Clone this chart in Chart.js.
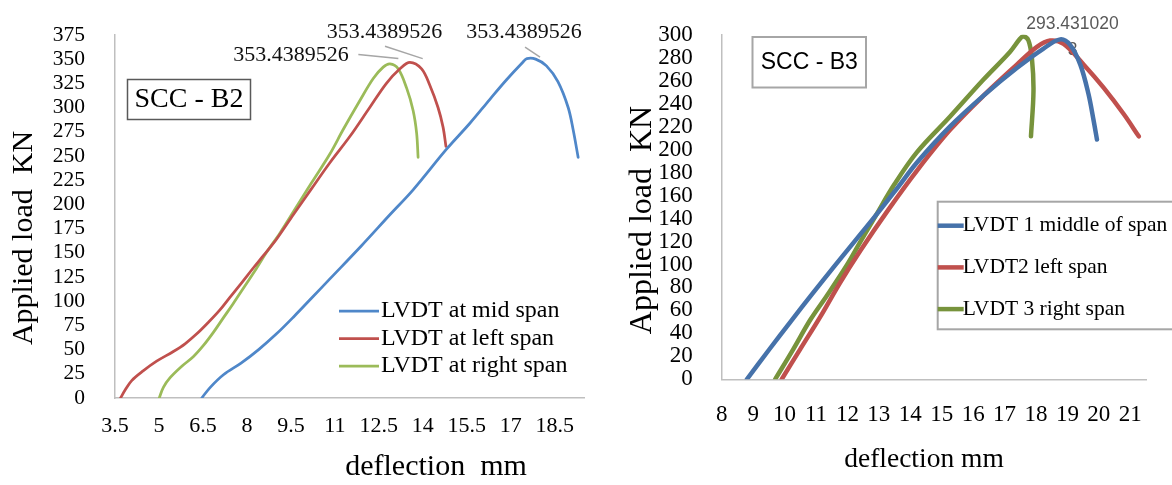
<!DOCTYPE html>
<html>
<head>
<meta charset="utf-8">
<script src="https://cdn.jsdelivr.net/npm/chart.js@4.4.0/dist/chart.umd.min.js"></script>
<style>
  body { margin: 0; background: #fff; width: 1172px; height: 485px; position: relative; overflow: hidden; }
  #wrapB2 { position: absolute; left: 0; top: 0; width: 600px; height: 485px; }
  #wrapB3 { position: absolute; left: 600px; top: 0; width: 572px; height: 485px; }
</style>
</head>
<body>
<div id="wrapB2"><canvas id="chartB2" width="600" height="485"></canvas></div>
<div id="wrapB3"><canvas id="chartB3" width="572" height="485"></canvas></div>
<script>
// ---- SCC - B2 (left chart) ----
const b2Series = ['LVDT at mid span', 'LVDT at left span', 'LVDT at right span'];
const b2MidX = [6.46, 6.75, 7.2, 7.8, 8.4, 9.0, 9.6, 10.2, 10.83, 11.9, 12.9, 13.67, 14.81, 15.6, 16.29, 16.85, 17.42, 17.55, 17.85, 18.22, 18.61, 18.96, 19.13, 19.3];
const b2MidY = [0, 11, 24, 36, 50, 66, 84, 103, 123, 157, 190, 215, 257, 283.5, 308.5, 328.4, 347, 350.5, 350, 343, 326.7, 300, 277, 248.6];
const b2LeftX = [3.69, 3.84, 4.07, 4.46, 4.92, 5.49, 5.89, 6.28, 6.68, 7.08, 7.42, 7.82, 8.21, 8.56, 9.01, 9.6, 10.2, 10.83, 11.51, 12.19, 12.76, 13.22, 13.56, 13.96, 14.24, 14.52, 14.69, 14.79];
const b2LeftY = [0, 8, 18, 28, 38, 48, 56, 66, 78, 91, 104, 119, 134, 147, 164, 190, 216, 243, 270, 300, 325, 340, 346.7, 340, 323, 300, 280, 260];
const b2RightX = [5.01, 5.15, 5.38, 5.77, 6.17, 6.51, 6.85, 7.19, 7.53, 7.93, 8.33, 8.67, 9.13, 9.58, 10.2, 10.83, 11.28, 11.85, 12.31, 12.65, 12.88, 13.16, 13.45, 13.67, 13.79, 13.84];
const b2RightY = [0, 11, 21, 32.6, 42.6, 54, 67.5, 82.5, 97.4, 115.7, 134, 150.5, 170.5, 192, 222, 252, 277, 307, 330, 341.7, 345, 340, 320, 297, 273.6, 248.6];
const b2XTicks = [3.5, 5, 6.5, 8, 9.5, 11, 12.5, 14, 15.5, 17, 18.5];
const b2YTicks = [0, 25, 50, 75, 100, 125, 150, 175, 200, 225, 250, 275, 300, 325, 350, 375];
const b2PeakLabel = '353.4389526';

// ---- SCC - B3 (right chart) ----
const b3Series = ['LVDT 1 middle of span', 'LVDT2 left span', 'LVDT 3 right span'];
const b3MidX = [8.8, 9.5, 10.2, 10.9, 11.6, 12.3, 13.0, 13.6, 14.22, 15.26, 16.33, 17.39, 18.24, 18.77, 19.09, 19.41, 19.67, 19.83, 19.94];
const b3MidY = [0, 25.5, 50.5, 75, 99, 122.5, 146, 167, 189, 220, 247, 271, 288, 296, 291, 274, 248.4, 225.8, 208.8];
const b3LeftX = [9.91, 10.5, 11.14, 11.77, 12.41, 13.31, 14.22, 15.26, 16.33, 17.39, 18.03, 18.45, 18.88, 19.52, 20.15, 20.79, 21.27];
const b3LeftY = [0, 26.3, 54.6, 84.3, 112, 148, 182, 217, 247, 274, 289.5, 295, 292, 274, 254, 231, 211.6];
const b3RightX = [9.7, 10.28, 10.82, 11.35, 11.99, 12.41, 12.89, 13.5, 14.22, 15.26, 16.33, 17.17, 17.49, 17.6, 17.76, 17.87, 17.92, 17.84];
const b3RightY = [0, 26.3, 51.8, 73, 99.8, 119.7, 142, 170, 198, 228.6, 261, 285, 296.5, 298.8, 295, 279.5, 251, 211.6];
const b3XTicks = [8, 9, 10, 11, 12, 13, 14, 15, 16, 17, 18, 19, 20, 21];
const b3YTicks = [0, 20, 40, 60, 80, 100, 120, 140, 160, 180, 200, 220, 240, 260, 280, 300];
const b3PeakLines = ['293.431020', '3'];

const SERIF = "'Liberation Serif', 'Times New Roman', serif";
const SANS = "'Liberation Sans', Arial, sans-serif";

function pts(xs, ys) { return xs.map((x, i) => ({ x: x, y: ys[i] })); }

// data labels, text boxes, legend and axis titles
const extras = {
  id: 'extras',
  beforeDatasetsDraw(chart, args, o) {
    const ctx = chart.ctx, xs = chart.scales.x, ys = chart.scales.y;
    ctx.save();
    (o.peakLabels || []).forEach(l => {
      const data = chart.data.datasets[l.ds].data;
      let top = data[0];
      data.forEach(p => { if (p.y > top.y) top = p; });
      const px = xs.getPixelForValue(top.x), py = ys.getPixelForValue(top.y);
      if (l.lead) {
        ctx.strokeStyle = '#a6a6a6';
        ctx.lineWidth = 1.5;
        ctx.beginPath();
        ctx.moveTo(px + l.lead[0], py + l.lead[1]);
        ctx.lineTo(px + l.lead[2], py + l.lead[3]);
        ctx.stroke();
      }
      ctx.font = l.font;
      ctx.fillStyle = l.color;
      ctx.textAlign = 'center';
      ctx.textBaseline = 'middle';
      l.lines.forEach((t, i) => ctx.fillText(t, px + l.dx, py + l.dy + i * l.lh));
    });
    ctx.restore();
  },
  afterDraw(chart, args, o) {
    const ctx = chart.ctx;
    ctx.save();
    ctx.fillStyle = '#000';
    ctx.textBaseline = 'middle';
    ctx.textAlign = 'center';

    ctx.font = o.xTitle.font;
    ctx.fillText(o.xTitle.text, o.xTitle.x, o.xTitle.y);
    ctx.save();
    ctx.translate(o.yTitle.x, o.yTitle.y);
    ctx.rotate(-Math.PI / 2);
    ctx.font = o.yTitle.font;
    ctx.fillText(o.yTitle.text, 0, 0);
    ctx.restore();

    const b = o.box;
    ctx.strokeStyle = b.stroke;
    ctx.lineWidth = b.lineWidth;
    ctx.strokeRect(b.x0, b.y0, b.x1 - b.x0, b.y1 - b.y0);
    ctx.font = b.font;
    ctx.fillText(b.text, (b.x0 + b.x1) / 2, b.ty);

    const g = o.legend;
    if (g.frame) {
      ctx.strokeStyle = g.frame.stroke;
      ctx.lineWidth = g.frame.lineWidth;
      ctx.strokeRect(g.frame.x0, g.frame.y0, g.frame.x1 - g.frame.x0, g.frame.y1 - g.frame.y0);
    }
    ctx.textAlign = 'left';
    ctx.font = g.font;
    chart.data.datasets.forEach((d, i) => {
      const y = g.y + i * g.dy;
      ctx.strokeStyle = d.borderColor;
      ctx.lineWidth = d.borderWidth;
      ctx.beginPath();
      ctx.moveTo(g.x, y);
      ctx.lineTo(g.x + g.lineLen, y);
      ctx.stroke();
      ctx.fillText(d.label, g.x + g.lineLen + g.gap, y);
    });
    ctx.restore();
  }
};

function line(label, data, color, width) {
  return {
    label: label, data: data, borderColor: color, borderWidth: width,
    showLine: true, pointRadius: 0, tension: 0.35, fill: false,
    borderCapStyle: 'round', borderJoinStyle: 'round'
  };
}

function axis(min, max, tickList, pad, fit, fontSize) {
  return {
    type: 'linear', min: min, max: max,
    afterBuildTicks: s => { s.ticks = tickList.map(v => ({ value: v })); },
    afterFit: fit,
    grid: { display: false },
    border: { display: true, color: '#bfbfbf', width: 1.5 },
    ticks: {
      font: { family: SERIF, size: fontSize }, color: '#000', padding: pad,
      autoSkip: false, maxRotation: 0, callback: v => String(v)
    }
  };
}

new Chart('chartB2', {
  type: 'scatter',
  data: {
    datasets: [
      line(b2Series[0], pts(b2MidX, b2MidY), '#4f87c9', 2.75),
      line(b2Series[1], pts(b2LeftX, b2LeftY), '#c0504d', 2.75),
      line(b2Series[2], pts(b2RightX, b2RightY), '#9bbb59', 2.75)
    ]
  },
  options: {
    responsive: false, animation: false, events: [],
    layout: { padding: { top: 22, right: 16, left: 0, bottom: 0 } },
    scales: {
      x: axis(3.5, 19.5, b2XTicks, 7, s => { s.height = 87; }, 22),
      y: axis(0, 375, b2YTicks, 22, s => { s.width = 115; }, 21.5)
    },
    plugins: {
      legend: { display: false },
      tooltip: { enabled: false },
      extras: {
        xTitle: { text: 'deflection  mm', x: 436, y: 467, font: '30px ' + SERIF },
        yTitle: { text: 'Applied load  KN', x: 24, y: 238, font: '30px ' + SERIF },
        box: { text: 'SCC - B2', x0: 127.5, y0: 79.5, x1: 250.5, y1: 119.5, ty: 100, stroke: '#595959', lineWidth: 1.5, font: '28px ' + SERIF },
        legend: { x: 339, y: 311, dy: 27.5, lineLen: 40, gap: 2, font: '24px ' + SERIF },
        peakLabels: [
          { ds: 0, lines: [b2PeakLabel], dx: -2.8, dy: -26.6, lh: 0, lead: [-1.8, -11.6, 13.2, -1.6], font: '22px ' + SERIF, color: '#111' },
          { ds: 1, lines: [b2PeakLabel], dx: -25.4, dy: -30.4, lh: 0, lead: [-24.9, -16.1, 12.8, -3.7], font: '22px ' + SERIF, color: '#111' },
          { ds: 2, lines: [b2PeakLabel], dx: -98.9, dy: -8.8, lh: 0, lead: [-31.6, -9.4, 8.4, -5.4], font: '22px ' + SERIF, color: '#111' }
        ]
      }
    }
  },
  plugins: [extras]
});

new Chart('chartB3', {
  type: 'scatter',
  data: {
    datasets: [
      line(b3Series[0], pts(b3MidX, b3MidY), '#4672aa', 4.5),
      line(b3Series[1], pts(b3LeftX, b3LeftY), '#c0504d', 4.5),
      line(b3Series[2], pts(b3RightX, b3RightY), '#77933c', 4.5)
    ]
  },
  options: {
    responsive: false, animation: false, events: [],
    layout: { padding: { top: 26, right: 26, left: 0, bottom: 0 } },
    scales: {
      x: axis(8, 21.5, b3XTicks, 14, s => { s.height = 105.7; }, 23),
      y: axis(0, 300, b3YTicks, 21, s => { s.width = 121.7; }, 23)
    },
    plugins: {
      legend: { display: false },
      tooltip: { enabled: false },
      extras: {
        xTitle: { text: 'deflection mm', x: 324, y: 460, font: '27.5px ' + SERIF },
        yTitle: { text: 'Applied load  KN', x: 43, y: 220, font: '32px ' + SERIF },
        box: { text: 'SCC - B3', x0: 152.5, y0: 37, x1: 266, y1: 87.5, ty: 63, stroke: '#a6a6a6', lineWidth: 2, font: '23px ' + SANS },
        legend: {
          x: 337.7, y: 225.7, dy: 41.7, lineLen: 26, gap: -1, font: '21.5px ' + SERIF,
          frame: { x0: 337.7, y0: 201.7, x1: 590, y1: 329.3, stroke: '#a6a6a6', lineWidth: 2 }
        },
        peakLabels: [
          { ds: 0, lines: b3PeakLines, dx: 12.3, dy: -15.7, lh: 26, font: '17.5px ' + SANS, color: '#595959' }
        ]
      }
    }
  },
  plugins: [extras]
});
</script>
</body>
</html>
